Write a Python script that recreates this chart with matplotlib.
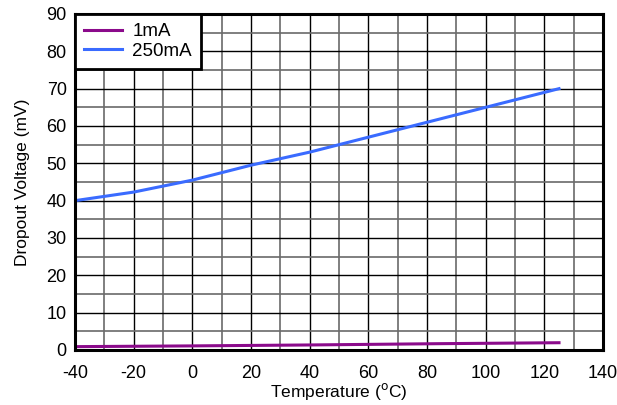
import matplotlib.pyplot as plt
import numpy as np

plt.rcParams['font.family'] = ['Liberation Sans', 'DejaVu Sans']
plt.rcParams['axes.unicode_minus'] = False

# dropout voltage vs temperature
temp_1ma = [-40, 0, 40, 85, 125]
vdo_1ma = [0.9, 1.1, 1.35, 1.7, 1.95]
temp_250ma = [-40, -20, 0, 20, 40, 60, 80, 100, 125]
vdo_250ma = [40, 42.3, 45.5, 49.5, 53, 57, 61, 65, 70]

xticks = np.arange(-40, 141, 20)
yticks = np.arange(0, 91, 10)

fig = plt.figure(figsize=(6.17, 4.05), dpi=100)
ax = fig.add_axes([75 / 617, 55 / 405, 528 / 617, 336 / 405])

ax.plot(temp_1ma, vdo_1ma, color='#8B0A8B', lw=2.2, label='1mA')
ax.plot(temp_250ma, vdo_250ma, color='#3A6BFF', lw=2.2, label='250mA')

ax.set_xlim(-40, 140)
ax.set_ylim(0, 90)
ax.set_xticks(xticks)
ax.set_yticks(yticks)
ax.set_xticks(np.arange(-40, 141, 10), minor=True)
ax.set_yticks(np.arange(0, 91, 5), minor=True)
ax.grid(which='major', color='black', lw=1.0)
ax.grid(which='minor', color='#6a6a6a', lw=1.2)
ax.set_axisbelow(True)
ax.tick_params(which='both', length=0, labelsize=13)
ax.tick_params(axis='x', pad=11)
ax.tick_params(axis='y', pad=6)

for s in ax.spines.values():
    s.set_linewidth(2.2)
    s.set_color('black')

ax.set_xlabel('Temperature ($^{\\mathrm{o}}$C)', fontsize=12.5, labelpad=-1)
ax.set_ylabel('Dropout Voltage (mV)', fontsize=12.5, labelpad=12)

leg = ax.legend(loc='upper left', fontsize=13.5, frameon=True, fancybox=False,
                borderaxespad=0, handlelength=2.0, handletextpad=0.55,
                borderpad=0.5, labelspacing=0.1)
leg.get_frame().set_edgecolor('black')
leg.get_frame().set_linewidth(2)
leg.get_frame().set_alpha(1)

fig.savefig('out.png', dpi=100)
